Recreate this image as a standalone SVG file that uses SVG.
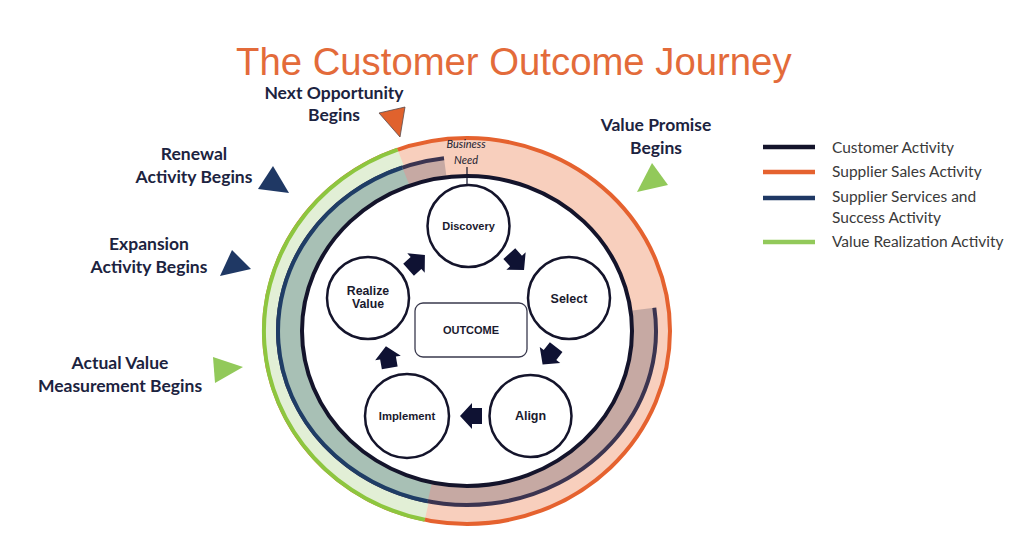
<svg xmlns="http://www.w3.org/2000/svg" xmlns:xlink="http://www.w3.org/1999/xlink" width="1024" height="536" viewBox="0 0 1024 536">
<style>
.node{fill:#ffffff;stroke:#14142b;stroke-width:2.5}
.nt{font-family:"Liberation Sans",Arial,sans-serif;font-weight:bold;fill:#1a1a2e;text-anchor:middle}
.lbl{font-family:Lato,"Open Sans",sans-serif;font-weight:bold;font-size:17.5px;fill:#1c2340;text-anchor:middle}
.leg{font-family:Lato,"Open Sans",sans-serif;font-size:15.5px;fill:#3a3a3a}
.legline{stroke-width:4.5;fill:none}
.arr{fill:#0f1233}
.bn{font-family:Lato,"Open Sans",sans-serif;font-style:italic;font-size:11px;fill:#222230;text-anchor:middle}
</style>
<defs>
<path id="barrow" d="M-10,-8 L0,-8 L0,-13 L12,0 L0,13 L0,8 L-10,8 Z"/>
</defs>
<rect width="1024" height="536" fill="#ffffff"/>
<text id="title" x="236" y="75" font-family="'Liberation Sans',Arial,sans-serif" font-size="38.3" fill="#e36b3a">The Customer Outcome Journey</text>

<g id="rings">
  <ellipse cx="467" cy="331" rx="203" ry="193" fill="#f8cfbd" stroke="#e5622f" stroke-width="4"/>
  <path d="M467,331 L424.8,519.8 A203 193 0 0 1 397.6,149.6 Z" fill="#e2efd6"/>
  <path d="M424.8,519.8 A203 193 0 0 1 397.6,149.6" fill="none" stroke="#8dc63f" stroke-width="4"/>
  <path d="M467,331 L654.3,307.7 A189 174 0 1 1 444.0,158.3 Z" fill="#c6a9a3"/>
  <path d="M654.3,307.7 A189 174 0 1 1 444.0,158.3" fill="none" stroke="#3b3450" stroke-width="4"/>
  <path d="M467,331 L427.7,501.2 A189 174 0 0 1 402.4,167.5 Z" fill="#a8c0b5"/>
  <path d="M427.7,501.2 A189 174 0 0 1 402.4,167.5" fill="none" stroke="#1f3d66" stroke-width="4"/>
  <ellipse cx="467" cy="331" rx="165" ry="155" fill="#ffffff" stroke="#14142b" stroke-width="4"/>
</g>

<g id="business-need">
  <text class="bn" x="466" y="148">Business</text>
  <text class="bn" x="466" y="164">Need</text>
</g>

<g id="connectors">
  <line x1="467" y1="167" x2="467" y2="196" stroke="#14142b" stroke-width="1.2"/>
  <use href="#barrow" xlink:href="#barrow" class="arr" transform="translate(416,263) rotate(-42)"/>
  <use href="#barrow" xlink:href="#barrow" class="arr" transform="translate(516,261) rotate(48)"/>
  <use href="#barrow" xlink:href="#barrow" class="arr" transform="translate(550,355) rotate(128)"/>
  <use href="#barrow" xlink:href="#barrow" class="arr" transform="translate(472,416) rotate(180)"/>
  <use href="#barrow" xlink:href="#barrow" class="arr" transform="translate(388,358) rotate(-100)"/>
</g>

<g id="node-discovery">
  <circle class="node" cx="468.5" cy="226" r="41"/>
  <text class="nt" x="468.5" y="230" font-size="11">Discovery</text>
</g>
<g id="node-select">
  <circle class="node" cx="569" cy="298" r="41"/>
  <text class="nt" x="569" y="303" font-size="12.5">Select</text>
</g>
<g id="node-align">
  <circle class="node" cx="530.5" cy="416" r="41"/>
  <text class="nt" x="530.5" y="420" font-size="12.5">Align</text>
</g>
<g id="node-implement">
  <circle class="node" cx="407" cy="416" r="42"/>
  <text class="nt" x="407" y="420" font-size="11.3">Implement</text>
</g>
<g id="node-realize">
  <circle class="node" cx="368" cy="298" r="41"/>
  <text class="nt" x="368" y="295" font-size="12.3">Realize</text>
  <text class="nt" x="368" y="308" font-size="12.3">Value</text>
</g>
<g id="node-outcome">
  <rect x="415" y="303" width="112" height="54" rx="8" fill="#ffffff" stroke="#3a3a4e" stroke-width="1.3"/>
  <text class="nt" x="471" y="334" font-size="11">OUTCOME</text>
</g>

<g id="marker-next">
  <polygon points="379,113 405,107 400,137" fill="#e0622d" stroke="#5a4a4a" stroke-width="0.8"/>
  <text class="lbl" x="334" y="99">Next Opportunity</text>
  <text class="lbl" x="334" y="121">Begins</text>
</g>
<g id="marker-renewal">
  <polygon points="273,166 258,189 289,193" fill="#1f3864"/>
  <text class="lbl" x="194" y="160">Renewal</text>
  <text class="lbl" x="194" y="183">Activity Begins</text>
</g>
<g id="marker-expansion">
  <polygon points="232,250 220,276 251,269" fill="#1f3864"/>
  <text class="lbl" x="149" y="250">Expansion</text>
  <text class="lbl" x="149" y="273">Activity Begins</text>
</g>
<g id="marker-actual">
  <polygon points="213,357 215,383 243,367" fill="#92c95a"/>
  <text class="lbl" x="120" y="369">Actual Value</text>
  <text class="lbl" x="120" y="392">Measurement Begins</text>
</g>
<g id="marker-value-promise">
  <polygon points="652,163 637,192 668,185" fill="#92c95a"/>
  <text class="lbl" x="656" y="131">Value Promise</text>
  <text class="lbl" x="656" y="154">Begins</text>
</g>

<g id="legend">
  <line class="legline" x1="763" y1="147" x2="815" y2="147" stroke="#14142b"/>
  <text class="leg" x="832" y="153">Customer Activity</text>
  <line class="legline" x1="763" y1="172" x2="815" y2="172" stroke="#e5622f"/>
  <text class="leg" x="832" y="177">Supplier Sales Activity</text>
  <line class="legline" x1="763" y1="198" x2="815" y2="198" stroke="#1f3864"/>
  <text class="leg" x="832" y="202">Supplier Services and</text>
  <text class="leg" x="832" y="223">Success Activity</text>
  <line class="legline" x1="763" y1="242" x2="815" y2="242" stroke="#92c95a"/>
  <text class="leg" x="832" y="247">Value Realization Activity</text>
</g>
</svg>
